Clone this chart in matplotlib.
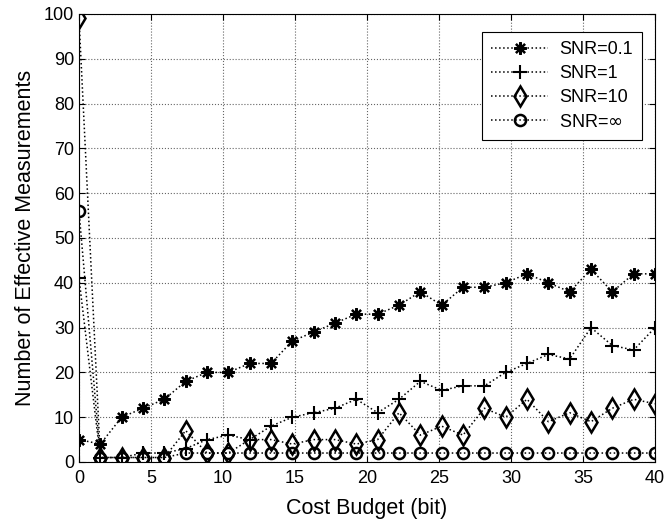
import numpy as np
import matplotlib
matplotlib.use('Agg')
import matplotlib.pyplot as plt

plt.rcParams['font.family'] = ['Liberation Sans', 'DejaVu Sans']

budget = np.linspace(0, 40, 28)
snr_01 = [5, 4, 10, 12, 14, 18, 20, 20, 22, 22, 27, 29, 31, 33, 33, 35, 38, 35,
          39, 39, 40, 42, 40, 38, 43, 38, 42, 42]
snr_1 = [41, 1, 1, 2, 2, 3, 5, 6, 5, 8, 10, 11, 12, 14, 11, 14, 18, 16,
         17, 17, 20, 22, 24, 23, 30, 26, 25, 30]
snr_10 = [99, 1, 1, 1, 1, 7, 2, 2, 5, 5, 4, 5, 5, 4, 5, 11, 6, 8,
          6, 12, 10, 14, 9, 11, 9, 12, 14, 13]
snr_inf = [56, 1, 1, 1, 1] + [2] * 23

fig = plt.figure(figsize=(6.66, 5.25), dpi=100)
ax = fig.add_axes([79 / 666, 63 / 525, 576 / 666, 448 / 525])

ax.plot(budget, snr_01, 'k:', marker=(8, 2, 0), ms=9, mew=1.6, lw=1.1, label='SNR=0.1')
ax.plot(budget, snr_1, 'k:', marker='+', ms=10, mew=1.5, lw=1.1, label='SNR=1')
ax.plot(budget, snr_10, 'k:', marker='d', ms=10, mew=1.8, mfc='none', lw=1.1, label='SNR=10')
ax.plot(budget, snr_inf, 'k:', marker='o', ms=8, mew=1.8, mfc='none', lw=1.1, label='SNR=$\\infty$')

ax.set_xlim(0, 40)
ax.set_ylim(0, 100)
ax.set_xticks(range(0, 41, 5))
ax.set_yticks(range(0, 101, 10))
ax.grid(True, linestyle=':', color='0.4', linewidth=0.8)
ax.tick_params(direction='in', labelsize=13, top=True, right=True, length=4)
ax.tick_params(axis='x', pad=6)
ax.set_xlabel('Cost Budget (bit)', fontsize=15.5, labelpad=8)
ax.set_ylabel('Number of Effective Measurements', fontsize=15.5, labelpad=6)
for s in ax.spines.values():
    s.set_linewidth(0.8)

leg = ax.legend(loc='upper right', bbox_to_anchor=(0.993, 0.98), fontsize=13,
                fancybox=False, edgecolor='k', framealpha=1, borderpad=0.5,
                handlelength=3.2, handletextpad=0.6, labelspacing=0.4)
leg.get_frame().set_linewidth(0.8)

fig.savefig('out.png', dpi=100)
